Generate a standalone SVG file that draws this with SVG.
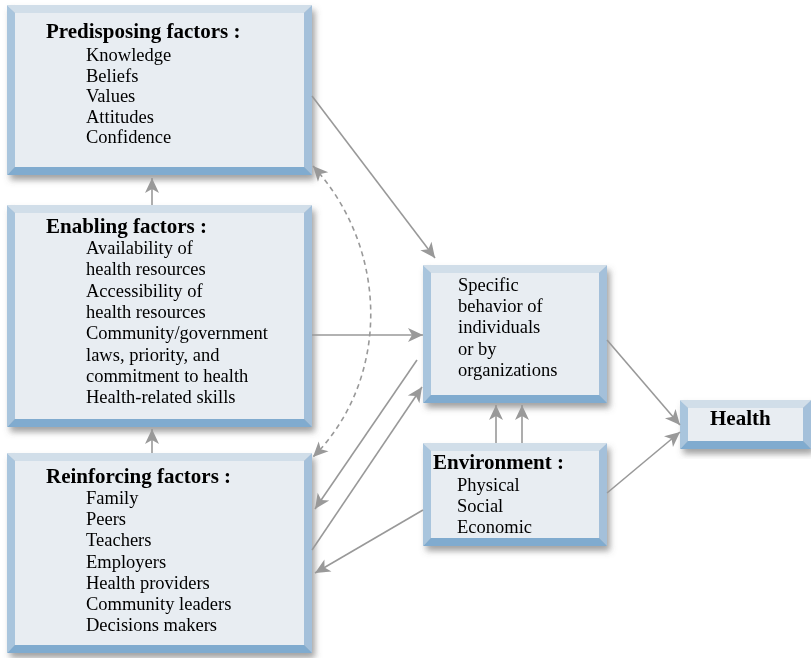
<svg xmlns="http://www.w3.org/2000/svg" width="811" height="658" viewBox="0 0 811 658">
  <defs>
    <filter id="shadow" x="-10%" y="-10%" width="130%" height="130%">
      <feDropShadow dx="3" dy="5" stdDeviation="3" flood-color="#555" flood-opacity="0.55"/>
    </filter>
    <marker id="arrow" viewBox="-17 -9 18 18" markerWidth="18" markerHeight="18" refX="0" refY="0" orient="auto-start-reverse" markerUnits="userSpaceOnUse">
      <path d="M0,0 L-15,-7 L-11,0 L-15,7 Z" fill="#999"/>
    </marker>
  </defs>
  <style>
    .face { fill: #e8edf2; }
    .top { fill: #d1dee9; }
    .left { fill: #a9c5dd; }
    .right { fill: #a4c0da; }
    .bottom { fill: #80abcf; }
    text { font-family: "Liberation Serif", "Times New Roman", serif; fill: #000; }
    .title { font-size: 21px; font-weight: bold; }
    .item { font-size: 18.5px; }
    .link { fill: none; stroke: #999; stroke-width: 1.6; marker-end: url(#arrow); }
    .dashed { stroke-dasharray: 5 4; marker-start: url(#arrow); }
  </style>

  <rect width="811" height="658" fill="#fff"/>

  <!-- Predisposing factors -->
  <g id="predisposing" filter="url(#shadow)">
    <rect class="face" x="15" y="13" width="289" height="154"/>
    <polygon class="top" points="7,5 312,5 304,13 15,13"/>
    <polygon class="left" points="7,5 15,13 15,167 7,175"/>
    <polygon class="right" points="312,5 312,175 304,167 304,13"/>
    <polygon class="bottom" points="7,175 15,167 304,167 312,175"/>
    <text class="title" x="46" y="38">Predisposing factors :</text>
    <text class="item" x="86" y="61">Knowledge</text>
    <text class="item" x="86" y="81.6">Beliefs</text>
    <text class="item" x="86" y="102.2">Values</text>
    <text class="item" x="86" y="122.8">Attitudes</text>
    <text class="item" x="86" y="143.4">Confidence</text>
  </g>

  <!-- Enabling factors -->
  <g id="enabling" filter="url(#shadow)">
    <rect class="face" x="15" y="213" width="289" height="206"/>
    <polygon class="top" points="7,205 312,205 304,213 15,213"/>
    <polygon class="left" points="7,205 15,213 15,419 7,427"/>
    <polygon class="right" points="312,205 312,427 304,419 304,213"/>
    <polygon class="bottom" points="7,427 15,419 304,419 312,427"/>
    <text class="title" x="46" y="233">Enabling factors :</text>
    <text class="item" x="86" y="254">Availability of</text>
    <text class="item" x="86" y="275.3">health resources</text>
    <text class="item" x="86" y="296.6">Accessibility of</text>
    <text class="item" x="86" y="317.9">health resources</text>
    <text class="item" x="86" y="339.2">Community/government</text>
    <text class="item" x="86" y="360.5">laws, priority, and</text>
    <text class="item" x="86" y="381.8">commitment to health</text>
    <text class="item" x="86" y="403.1">Health-related skills</text>
  </g>

  <!-- Reinforcing factors -->
  <g id="reinforcing" filter="url(#shadow)">
    <rect class="face" x="15" y="461" width="289" height="184"/>
    <polygon class="top" points="7,453 312,453 304,461 15,461"/>
    <polygon class="left" points="7,453 15,461 15,645 7,653"/>
    <polygon class="right" points="312,453 312,653 304,645 304,461"/>
    <polygon class="bottom" points="7,653 15,645 304,645 312,653"/>
    <text class="title" x="46" y="483">Reinforcing factors :</text>
    <text class="item" x="86" y="504">Family</text>
    <text class="item" x="86" y="525.2">Peers</text>
    <text class="item" x="86" y="546.4">Teachers</text>
    <text class="item" x="86" y="567.6">Employers</text>
    <text class="item" x="86" y="588.8">Health providers</text>
    <text class="item" x="86" y="610">Community leaders</text>
    <text class="item" x="86" y="631.2">Decisions makers</text>
  </g>

  <!-- Specific behavior -->
  <g id="behavior" filter="url(#shadow)">
    <rect class="face" x="431" y="273" width="168" height="122"/>
    <polygon class="top" points="423,265 607,265 599,273 431,273"/>
    <polygon class="left" points="423,265 431,273 431,395 423,403"/>
    <polygon class="right" points="607,265 607,403 599,395 599,273"/>
    <polygon class="bottom" points="423,403 431,395 599,395 607,403"/>
    <text class="item" x="458" y="291">Specific</text>
    <text class="item" x="458" y="312.2">behavior of</text>
    <text class="item" x="458" y="333.4">individuals</text>
    <text class="item" x="458" y="354.6">or by</text>
    <text class="item" x="458" y="375.8">organizations</text>
  </g>

  <!-- Environment -->
  <g id="environment" filter="url(#shadow)">
    <rect class="face" x="431" y="451" width="168" height="87"/>
    <polygon class="top" points="423,443 607,443 599,451 431,451"/>
    <polygon class="left" points="423,443 431,451 431,538 423,546"/>
    <polygon class="right" points="607,443 607,546 599,538 599,451"/>
    <polygon class="bottom" points="423,546 431,538 599,538 607,546"/>
    <text class="title" x="433" y="469">Environment :</text>
    <text class="item" x="457" y="491">Physical</text>
    <text class="item" x="457" y="512">Social</text>
    <text class="item" x="457" y="533">Economic</text>
  </g>

  <!-- Health -->
  <g id="health" filter="url(#shadow)">
    <rect class="face" x="688" y="408" width="115" height="33"/>
    <polygon class="top" points="680,400 811,400 803,408 688,408"/>
    <polygon class="left" points="680,400 688,408 688,441 680,449"/>
    <polygon class="right" points="811,400 811,449 803,441 803,408"/>
    <polygon class="bottom" points="680,449 688,441 803,441 811,449"/>
    <text class="title" x="710" y="425">Health</text>
  </g>

  <!-- Connectors -->
  <g id="connectors">
    <path class="link" d="M312,96 L435,258"/>
    <path class="link" d="M312,335 L423,335"/>
    <path class="link dashed" d="M313,166 C390,250 390,380 313,457"/>
    <path class="link" d="M417,360 L315,509"/>
    <path class="link" d="M312,550 L422,387"/>
    <path class="link" d="M423,510 L315,573"/>
    <path class="link" d="M496,443 L496,405"/>
    <path class="link" d="M522,443 L522,405"/>
    <path class="link" d="M607,340 L680,425"/>
    <path class="link" d="M607,493 L680,432"/>
    <path class="link" d="M152,205 L152,178"/>
    <path class="link" d="M152,453 L152,429"/>
  </g>
</svg>
